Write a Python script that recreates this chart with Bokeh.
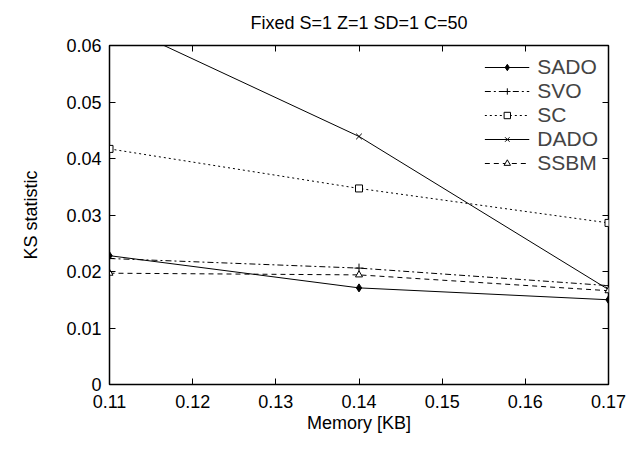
from bokeh.plotting import figure
from bokeh.models import FixedTicker, CustomJSTickFormatter, Range1d, Legend, LegendItem, LinearAxis
from bokeh.embed import file_html
from bokeh.resources import INLINE

memory = [0.11, 0.14, 0.17]
sado = [0.0228, 0.0171, 0.0150]
svo = [0.0223, 0.0206, 0.0175]
sc = [0.0417, 0.0347, 0.0286]
dado = [0.0645, 0.0439, 0.0168]
ssbm = [0.0197, 0.0194, 0.0166]
x_ticks = [0.11, 0.12, 0.13, 0.14, 0.15, 0.16, 0.17]
y_ticks = [0.0, 0.01, 0.02, 0.03, 0.04, 0.05, 0.06]

FONT = "Liberation Sans"

p = figure(width=628, height=435, output_backend="svg", toolbar_location=None,
           x_range=Range1d(0.11, 0.17), y_range=Range1d(0, 0.06),
           min_border_left=109, min_border_right=20, min_border_top=45, min_border_bottom=47,
           title="Fixed S=1 Z=1 SD=1 C=50")
p.title.align = "center"
p.title.vertical_align = "top"
p.title.text_font = FONT
p.title.text_font_size = "18px"
p.title.text_font_style = "normal"
p.title.text_color = "black"
p.title.offset = 0
p.title.standoff = 22

p.grid.visible = False
p.outline_line_color = "black"
p.outline_line_width = 1.5
p.background_fill_color = "white"
p.border_fill_color = "white"

fmt = CustomJSTickFormatter(code="return tick == 0 ? '0' : tick.toFixed(2);")
for ax in (p.xaxis[0], p.yaxis[0]):
    ax.major_tick_in = 6
    ax.major_tick_out = 0
    ax.minor_tick_in = 0
    ax.minor_tick_out = 0
    ax.axis_line_color = "black"
    ax.major_label_text_font = FONT
    ax.major_label_text_font_size = "18px"
    ax.major_label_text_color = "black"
    ax.axis_label_text_font = FONT
    ax.axis_label_text_font_size = "18px"
    ax.axis_label_text_font_style = "normal"
    ax.axis_label_text_color = "black"
    ax.formatter = fmt
p.xaxis[0].ticker = FixedTicker(ticks=x_ticks)
p.yaxis[0].ticker = FixedTicker(ticks=y_ticks)
p.xaxis[0].axis_label = "Memory [KB]"
p.yaxis[0].axis_label = "KS statistic"
p.xaxis[0].major_label_standoff = 10
p.xaxis[0].axis_label_standoff = 2
p.yaxis[0].major_label_standoff = 8
p.yaxis[0].axis_label_standoff = 22

# mirrored inward ticks on top and right (no labels)
top_ax = LinearAxis(ticker=FixedTicker(ticks=x_ticks), axis_line_color=None,
                    major_tick_in=6, major_tick_out=0, minor_tick_in=0, minor_tick_out=0,
                    major_label_text_font_size="0px", major_label_standoff=0)
right_ax = LinearAxis(ticker=FixedTicker(ticks=y_ticks), axis_line_color=None,
                      major_tick_in=6, major_tick_out=0, minor_tick_in=0, minor_tick_out=0,
                      major_label_text_font_size="0px", major_label_standoff=0)
p.add_layout(top_ax, "above")
p.add_layout(right_ax, "right")

lw = 1.0
r1 = p.line(memory, sado, line_color="black", line_width=lw)
m1 = p.scatter(memory, sado, marker="diamond", size=8, fill_color="black", line_color="black")
r2 = p.line(memory, svo, line_color="black", line_width=lw, line_dash="6 3 2 3")
m2 = p.scatter(memory, svo, marker="cross", size=9, line_color="black")
r3 = p.line(memory, sc, line_color="black", line_width=lw, line_dash="2 3")
m3 = p.scatter(memory, sc, marker="square", size=7, fill_color="white", line_color="black")
r4 = p.line(memory, dado, line_color="black", line_width=lw)
m4 = p.scatter(memory, dado, marker="x", size=8, line_color="black")
r5 = p.line(memory, ssbm, line_color="black", line_width=lw, line_dash="5 4")
m5 = p.scatter(memory, ssbm, marker="triangle", size=7, fill_color="white", line_color="black")

legend = Legend(items=[
    LegendItem(label="SADO", renderers=[r1, m1]),
    LegendItem(label="SVO", renderers=[r2, m2]),
    LegendItem(label="SC", renderers=[r3, m3]),
    LegendItem(label="DADO", renderers=[r4, m4]),
    LegendItem(label="SSBM", renderers=[r5, m5]),
], location="top_right")
legend.border_line_color = None
legend.background_fill_alpha = 0
legend.label_text_font = FONT
legend.label_text_font_size = "21px"
legend.label_height = 16
legend.glyph_height = 16
legend.glyph_width = 45
legend.spacing = -6
legend.padding = 6
legend.margin = 10
legend.label_standoff = 8
p.add_layout(legend)

open("out.html", "w").write(file_html(p, INLINE))
